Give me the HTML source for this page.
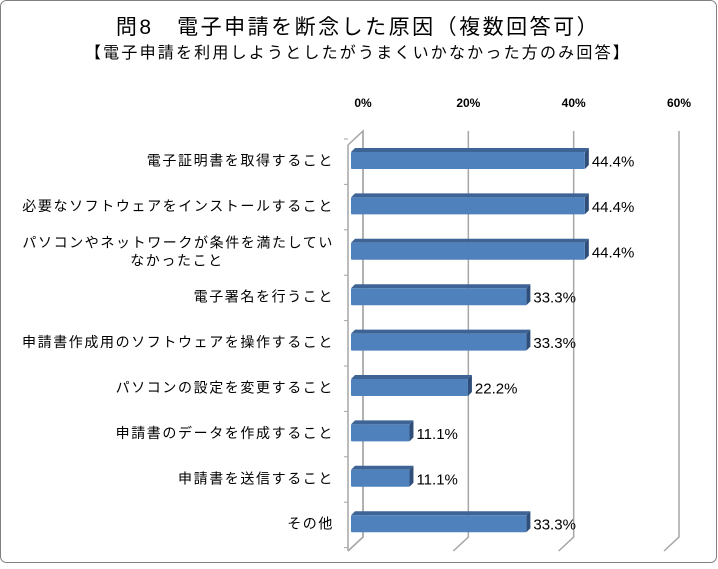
<!DOCTYPE html>
<html><head><meta charset="utf-8"><style>
body{margin:0;background:#fff}
svg text{font-family:"Liberation Sans","Noto Sans CJK JP",sans-serif;fill:#000}
</style></head><body>
<svg width="718" height="564" viewBox="0 0 718 564">
<rect x="0.5" y="0.5" width="716" height="562" rx="6" fill="#fff" stroke="#808080"/>
<text x="358" y="34" font-size="21" letter-spacing="2.5" text-anchor="middle">問8　電子申請を断念した原因（複数回答可）</text>
<text x="358" y="58" font-size="16" letter-spacing="2.2" text-anchor="middle">【電子申請を利用しようとしたがうまくいかなかった方のみ回答】</text>
<g id="grid"></g>
<g id="bars"></g>
</svg>
<script>
const categories=["電子証明書を取得すること","必要なソフトウェアをインストールすること","パソコンやネットワークが条件を満たしてい|なかったこと","電子署名を行うこと","申請書作成用のソフトウェアを操作すること","パソコンの設定を変更すること","申請書のデータを作成すること","申請書を送信すること","その他"];
const values=[44.4,44.4,44.4,33.3,33.3,22.2,11.1,11.1,33.3];
const valueLabels=["44.4%","44.4%","44.4%","33.3%","33.3%","22.2%","11.1%","11.1%","33.3%"];
const ticks=[0,20,40,60];
const tickLabels=["0%","20%","40%","60%"];
const NS="http://www.w3.org/2000/svg";
const fx0=348,bx0=363,scale=316/60,dy=-14,backTop=131,backBot=537,frontBot=551;
const xF=v=>fx0+v*scale, xB=v=>bx0+v*scale;
function mk(tag,attrs,parent){const e=document.createElementNS(NS,tag);for(const k in attrs)e.setAttribute(k,attrs[k]);parent.appendChild(e);return e;}
const g=document.getElementById('grid'),gb=document.getElementById('bars');
ticks.forEach((t,i)=>{
 const l=mk('polyline',{points:`${xF(t)},${frontBot} ${xB(t)},${backBot} ${xB(t)},${backTop}`,fill:'none',stroke:'#a6a6a6','stroke-width':1.5},g);
 
 
 const tx=mk('text',{x:xB(t),y:107,'font-size':12,'font-weight':'bold','text-anchor':'middle'},g);
 tx.textContent=tickLabels[i];
 
 
});
mk('polyline',{points:`${fx0},${frontBot} ${bx0},${backBot} ${bx0},${backTop} ${fx0},${backTop-dy}`,fill:'none',stroke:'#a6a6a6','stroke-width':1.5},g);
const ax=mk('line',{x1:fx0,y1:backTop-dy,x2:fx0,y2:frontBot,stroke:'#a6a6a6','stroke-width':1.5},g);


const step=45.4,first=152,h=17;
for(let i=0;i<=categories.length;i++){mk('line',{x1:fx0-4,x2:fx0,y1:first-8+i*step-5,y2:first-8+i*step-5,stroke:'#a6a6a6'},g);}
categories.forEach((c,i)=>{
 const y=first+i*step,w=values[i]*scale;
 const grp=mk('g',{},gb);
 
 
 mk('polygon',{points:`${fx0+3},${y} ${fx0+7},${y-4} ${fx0+w+7},${y-4} ${fx0+w+3},${y}`,fill:'#3e6496'},grp);
 mk('polygon',{points:`${fx0+w+3},${y} ${fx0+w+7},${y-4} ${fx0+w+7},${y+h-4} ${fx0+w+3},${y+h}`,fill:'#2f4f7a'},grp);
 mk('rect',{x:fx0+3,y:y,width:w,height:h,fill:'#4f81bd',rx:1},grp);
 const vt=mk('text',{x:fx0+w+10,y:y+h/2+6,'font-size':15},grp);
 vt.textContent=valueLabels[i];
 
 
 const parts=c.split('|');
 parts.forEach((p,j)=>{
  const lt=mk('text',{x:j?177:334,y:y+h/2+5+(parts.length>1?(j?9:-9):0),'font-size':14,'letter-spacing':1.6,'text-anchor':j?'middle':'end'},gb);
  lt.textContent=p;
  
  
 });
});
</script>
</body></html>
